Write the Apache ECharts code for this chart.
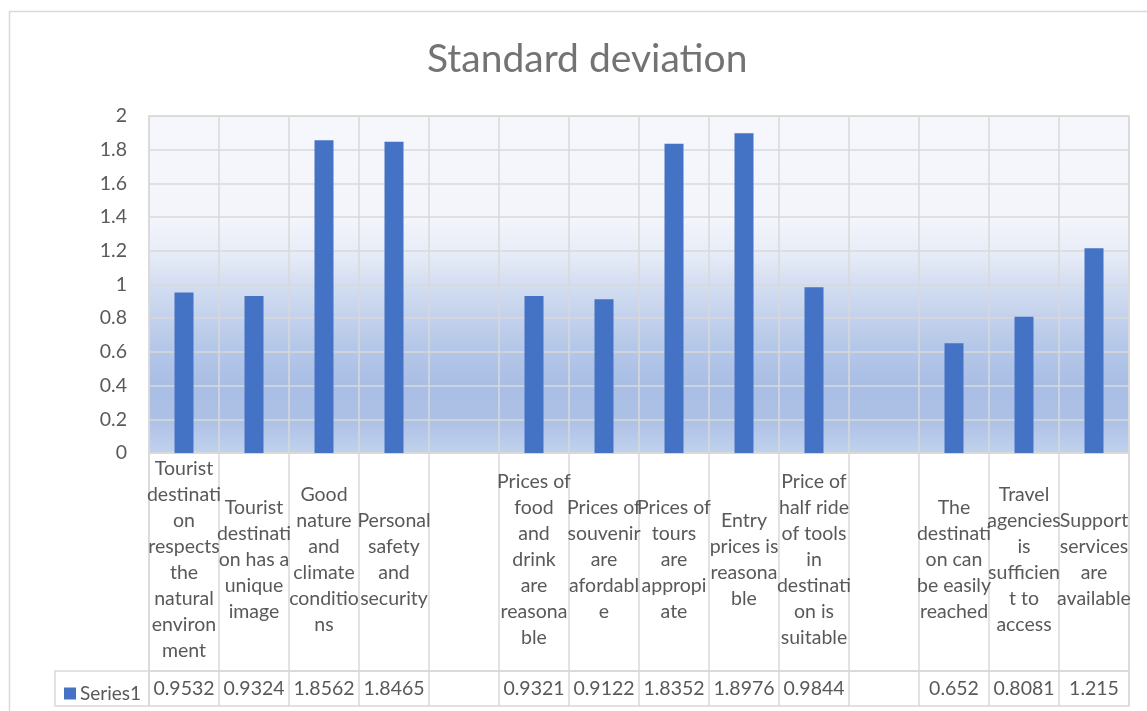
<!DOCTYPE html>
<html>
<head>
<meta charset="utf-8">
<script src="https://cdn.jsdelivr.net/npm/echarts@6/dist/echarts.min.js"></script>
<style>
html,body{margin:0;padding:0;background:#fff;}
#chart{width:1147px;height:711px;}
</style>
</head>
<body>
<div id="chart"></div>
<script>
const titleText = 'Standard deviation';
const seriesName = 'Series1';
const categories = [
  'Tourist\ndestinati\non\nrespects\nthe\nnatural\nenviron\nment',
  'Tourist\ndestinati\non has a\nunique\nimage',
  'Good\nnature\nand\nclimate\nconditio\nns',
  'Personal\nsafety\nand\nsecurity',
  ' ',
  'Prices of\nfood\nand\ndrink\nare\nreasona\nble',
  'Prices of\nsouvenir\nare\nafordabl\ne',
  'Prices of\ntours\nare\nappropi\nate',
  'Entry\nprices is\nreasona\nble',
  'Price of\nhalf ride\nof tools\nin\ndestinati\non is\nsuitable',
  '  ',
  'The\ndestinati\non can\nbe easily\nreached',
  'Travel\nagencies\nis\nsufficien\nt to\naccess',
  'Support\nservices\nare\navailable'
];
const values = [0.9532, 0.9324, 1.8562, 1.8465, null, 0.9321, 0.9122, 1.8352, 1.8976, 0.9844, null, 0.652, 0.8081, 1.215];
const yTicks = {min: 0, max: 2, interval: 0.2};

const GRID_C = '#d9d9d9';
const TXT_C = '#595959';
const FONT = 'Lato, "Open Sans", sans-serif';

const chart = echarts.init(document.getElementById('chart'), null, {renderer: 'canvas'});
const hiddenY = (gi) => ({type: 'value', gridIndex: gi, show: false, min: 0, max: 1});

const option = {
  backgroundColor: '#ffffff',
  animation: false,
  title: {
    text: titleText,
    left: 422,
    top: 35,
    textStyle: {fontFamily: FONT, fontSize: 39, fontWeight: 'normal', color: '#737373'}
  },
  legend: {
    data: [seriesName],
    left: 59,
    top: 679,
    icon: 'rect',
    itemWidth: 12,
    itemHeight: 12,
    itemGap: 4,
    textStyle: {fontFamily: FONT, fontSize: 19, color: TXT_C, padding: [0,0,0,-1]}
  },
  graphic: [{
    type: 'rect',
    shape: {x: 9.5, y: 11.5, width: 1160, height: 720},
    style: {fill: 'none', stroke: GRID_C, lineWidth: 1.5},
    silent: true,
    z: -10
  }],
  grid: [
    {
      left: 149, right: 18, top: 116, bottom: 258,
      show: true, borderColor: GRID_C, borderWidth: 1.5,
      backgroundColor: new echarts.graphic.LinearGradient(0, 0, 0, 1, [
        {offset: 0, color: '#f5f7fb'},
        {offset: 0.3, color: '#f3f5fb'},
        {offset: 0.4, color: '#e8edf8'},
        {offset: 0.5, color: '#d4def1'},
        {offset: 0.6, color: '#c2d1ec'},
        {offset: 0.7, color: '#b3c6e8'},
        {offset: 0.8, color: '#a9bee5'},
        {offset: 0.9, color: '#adc1e6'},
        {offset: 1, color: '#c2d2ee'}
      ])
    },
    {left: 149, right: 18, top: 453, bottom: 40, show: true, borderColor: GRID_C, borderWidth: 1.5, backgroundColor: 'transparent'},
    {left: 149, right: 18, top: 671, bottom: 5, show: true, borderColor: GRID_C, borderWidth: 1.5, backgroundColor: 'transparent'},
    {left: 55, width: 94, top: 671, bottom: 5, show: true, borderColor: GRID_C, borderWidth: 1.5, backgroundColor: 'transparent'}
  ],
  xAxis: [
    {
      type: 'category', gridIndex: 0, data: categories,
      axisLine: {show: true, lineStyle: {color: GRID_C, width: 1.5}},
      axisTick: {show: false},
      splitLine: {show: true, lineStyle: {color: GRID_C, width: 1.5}},
      axisLabel: {
        interval: 0, margin: 107, verticalAlign: 'middle', align: 'center',
        fontFamily: FONT, fontSize: 19.5, lineHeight: 26, color: TXT_C
      }
    },
    {
      type: 'category', gridIndex: 1, data: categories,
      axisLine: {show: false}, axisTick: {show: false}, axisLabel: {show: false},
      splitLine: {show: true, lineStyle: {color: GRID_C, width: 1.5}}
    },
    {
      type: 'category', gridIndex: 2, data: categories,
      axisLine: {show: false}, axisTick: {show: false},
      splitLine: {show: true, lineStyle: {color: GRID_C, width: 1.5}},
      axisLabel: {
        interval: 0, inside: true, margin: 17, verticalAlign: 'middle', align: 'center',
        fontFamily: FONT, fontSize: 19.5, color: TXT_C,
        formatter: (v, i) => values[i] == null ? '' : String(values[i])
      }
    },
    {type: 'category', gridIndex: 3, data: [''], show: false}
  ],
  yAxis: [
    {
      type: 'value', gridIndex: 0, min: yTicks.min, max: yTicks.max, interval: yTicks.interval,
      axisLine: {show: false}, axisTick: {show: false},
      splitLine: {show: true, lineStyle: {color: GRID_C, width: 1.5}},
      axisLabel: {margin: 22, fontFamily: FONT, fontSize: 19.5, color: TXT_C}
    },
    hiddenY(1), hiddenY(2), hiddenY(3)
  ],
  series: [{
    name: seriesName,
    type: 'bar',
    xAxisIndex: 0, yAxisIndex: 0,
    data: values,
    barWidth: 19,
    itemStyle: {color: '#4472c4'}
  }]
};
chart.setOption(option);
</script>
</body>
</html>
